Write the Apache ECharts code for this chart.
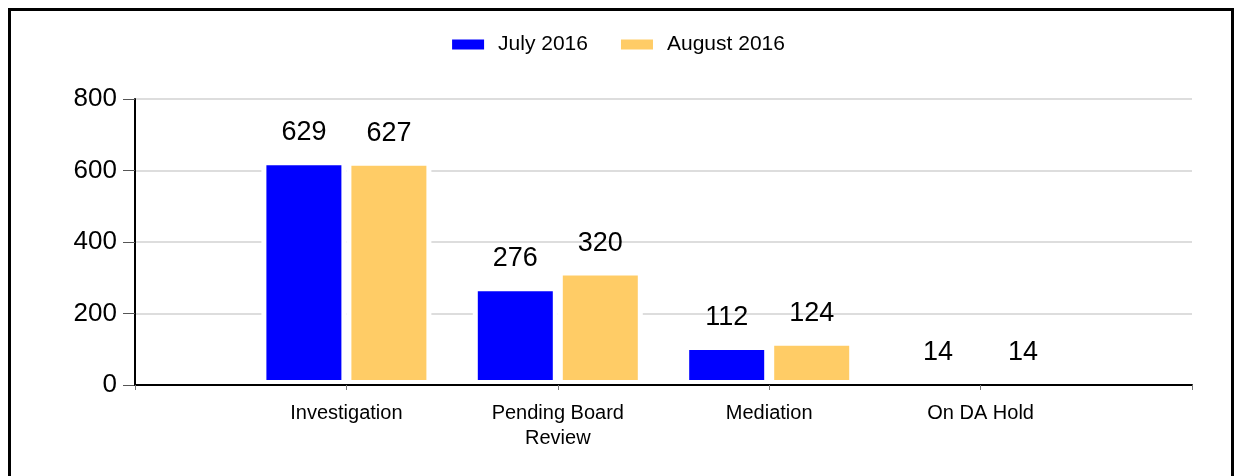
<!DOCTYPE html>
<html>
<head>
<meta charset="utf-8">
<script src="https://cdn.jsdelivr.net/npm/echarts@6/dist/echarts.min.js"></script>
<style>
  html, body { margin: 0; padding: 0; background: #fff; }
  .frame {
    position: absolute; left: 8px; top: 8px;
    width: 1226px; height: 490px;
    border: 3px solid #000; box-sizing: border-box;
  }
  .chartBox {
    position: absolute; left: 0; top: 0;
    width: 1235px; height: 476px;
  }
</style>
</head>
<body>
<div class="frame"></div>
<div class="chartBox" id="chartBox"></div>
<script>
  // 分类（首尾留空，使柱子落在刻度上）
  var categories = ["", "Investigation", "Pending Board\nReview", "Mediation", "On DA Hold", ""];
  // 各月数据
  var july = ["-", 629, 276, 112, 14, "-"];
  var august = ["-", 627, 320, 124, 14, "-"];

  var font = "Liberation Sans, Arial, sans-serif";
  var chart = echarts.init(document.getElementById("chartBox"));

  var barStyle = function (color) {
    return {
      color: color,
      borderColor: "#ffffff",
      borderWidth: 5
    };
  };
  var valueLabel = {
    show: true,
    position: "top",
    distance: 14,
    color: "#000",
    fontSize: 27,
    fontFamily: font
  };

  chart.setOption({
    animation: false,
    textStyle: { fontFamily: font },
    legend: {
      top: 29,
      left: "center",
      icon: "rect",
      itemWidth: 34,
      itemHeight: 12,
      itemGap: 31,
      textStyle: {
        color: "#000",
        fontSize: 21,
        fontFamily: font,
        padding: [0, 0, 0, 8]
      },
      data: ["July 2016", "August 2016"]
    },
    grid: {
      left: 135,
      right: 43,
      top: 99,
      bottom: 91,
      containLabel: false
    },
    xAxis: {
      type: "category",
      data: categories,
      boundaryGap: false,
      z: 3,
      axisLine: { lineStyle: { color: "#000", width: 2 } },
      axisTick: { length: 5, lineStyle: { color: "#777" } },
      axisLabel: {
        interval: 0,
        margin: 16,
        color: "#000",
        fontSize: 20,
        lineHeight: 25,
        fontFamily: font
      },
      splitLine: { show: false }
    },
    yAxis: {
      type: "value",
      min: 0,
      max: 800,
      interval: 200,
      axisLine: { show: true, lineStyle: { color: "#000", width: 2 } },
      axisTick: { show: true, length: 12, lineStyle: { color: "#555" } },
      axisLabel: {
        margin: 18,
        color: "#000",
        fontSize: 26,
        fontFamily: font
      },
      splitLine: { lineStyle: { color: "#dddddd", width: 2 } }
    },
    series: [
      {
        name: "July 2016",
        type: "bar",
        barWidth: 85,
        barGap: "0%",
        data: july,
        itemStyle: barStyle("#0000ff"),
        label: valueLabel
      },
      {
        name: "August 2016",
        type: "bar",
        barWidth: 85,
        barGap: "0%",
        data: august,
        itemStyle: barStyle("#ffcc66"),
        label: valueLabel
      }
    ]
  });
</script>
</body>
</html>
